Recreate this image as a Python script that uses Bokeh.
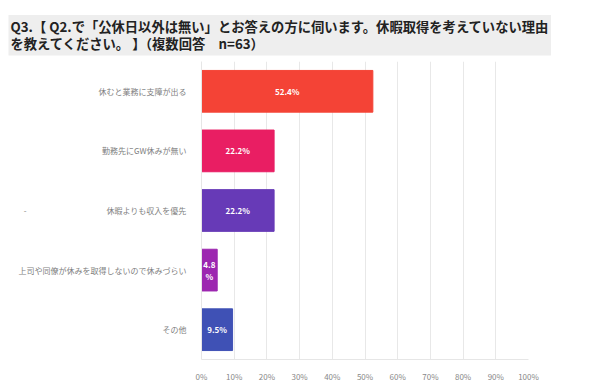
from bokeh.plotting import figure
from bokeh.models import Range1d, FixedTicker, Title, ColumnDataSource
from bokeh.core.properties import value
from bokeh.embed import file_html
from bokeh.resources import INLINE

categories = ["休むと業務に支障が出る", "勤務先にGW休みが無い", "-　　　　　　　　　　休暇よりも収入を優先",
              "上司や同僚が休みを取得しないので休みづらい", "その他"]
values = [52.4, 22.2, 22.2, 4.8, 9.5]
bar_labels = ["52.4%", "22.2%", "22.2%", "4.8\n%", "9.5%"]
colors = ["#f44336", "#e91e63", "#673ab7", "#9c27b0", "#3f51b5"]
x_ticks = [0, 10, 20, 30, 40, 50, 60, 70, 80, 90, 100]
title_text = "Q3.【 Q2.で「公休日以外は無い」とお答えの方に伺います。休暇取得を考えていない理由\nを教えてください。 】（複数回答　n=63）"

FONT = "Noto Sans CJK JP"
ypos = list(range(len(categories)))

src = ColumnDataSource(dict(y=ypos, v=values, c=colors, lab=bar_labels,
                            xm=[v / 2 for v in values]))

W, H = 574, 384
BL, BR, BT, BB = 201, 46, 61, 24

p = figure(width=W, height=H, output_backend="svg", toolbar_location=None,
           x_range=Range1d(0, 100), y_range=Range1d(4.5, -0.5),
           min_border_left=BL, min_border_right=BR, min_border_top=BT,
           min_border_bottom=BB)
p.outline_line_color = None
p.background_fill_color = "white"
p.title = Title(text=title_text, text_font=FONT, text_font_size="13.3px",
                text_font_style="bold", text_color="#222222",
                background_fill_color="#eeeeee", align="left", offset=8 - BL,
                standoff=12, text_line_height=0.92, padding=2)

p.hbar(y="y", right="v", left=0, height=0.7, color="c", source=src)
p.text(x="xm", y="y", text="lab", source=src, text_color="white",
       text_font=value(FONT), text_font_size="8px", text_font_style="bold",
       text_align="center", text_baseline="middle", text_line_height=1.1)

p.xaxis.ticker = FixedTicker(ticks=x_ticks)
p.xaxis.major_label_overrides = {t: f"{t}%" for t in x_ticks}
p.xaxis.major_label_text_font = FONT
p.xaxis.major_label_text_font_size = "8px"
p.xaxis.major_label_text_color = "#888888"
p.xaxis.major_tick_line_color = None
p.xaxis.minor_tick_line_color = None
p.xaxis.axis_line_color = "#e6e6e6"
p.xaxis.major_label_standoff = 5

p.yaxis.ticker = FixedTicker(ticks=ypos)
p.yaxis.major_label_overrides = {i: c for i, c in enumerate(categories)}
p.yaxis.major_label_text_font = FONT
p.yaxis.major_label_text_font_size = "8px"
p.yaxis.major_label_text_color = "#808080"
p.yaxis.major_tick_line_color = None
p.yaxis.minor_tick_line_color = None
p.yaxis.axis_line_color = "#e6e6e6"
p.yaxis.major_label_standoff = 9

p.ygrid.grid_line_color = None
p.xgrid.grid_line_color = "#e8e8e8"

open("out.html", "w").write(file_html(p, INLINE))
